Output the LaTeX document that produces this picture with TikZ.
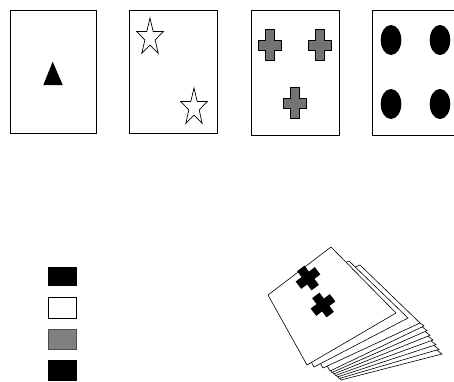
\documentclass[tikz,border=0pt]{standalone}
\usetikzlibrary{calc}
\begin{document}
\begin{tikzpicture}[x=1pt,y=-1pt,
  card/.style={draw=black,line width=0.8pt,fill=white},
  deckcard/.style={draw=black,line width=0.6pt,fill=white,line join=miter},
  greytex/.style={fill=black!55,draw=black,line width=1pt},
  crosspic/.pic={\path[pic actions] (-11.5,-5) -- (-4.5,-5) -- (-4.5,-15.5) -- (4.5,-15.5) -- (4.5,-5) -- (11.5,-5) -- (11.5,5) -- (4.5,5) -- (4.5,15.5) -- (-4.5,15.5) -- (-4.5,5) -- (-11.5,5) -- cycle;},
  deckcross/.pic={\path[pic actions] (-12,-4.6) -- (-4.6,-4.6) -- (-4.6,-12) -- (4.6,-12) -- (4.6,-4.6) -- (12,-4.6) -- (12,4.6) -- (4.6,4.6) -- (4.6,12) -- (-4.6,12) -- (-4.6,4.6) -- (-12,4.6) -- cycle;},
  starpath/.pic={\draw[line width=0.7pt,line join=miter] (90:14) \foreach \i in {1,...,9} {-- ({90+36*\i}:{mod(\i,2)==0 ? 14 : 5.4})} -- cycle;}
]
\useasboundingbox (0,0) rectangle (454,381);

% top row cards
\draw[card] (10,10) rectangle (96,133);
\draw[card] (129,10) rectangle (217,133);
\draw[card] (251,10) rectangle (339,135);
\draw[card] (372,10) rectangle (462,135);

% card 1: triangle
\fill (52.7,61.7) -- (43.3,85) -- (62.7,85) -- cycle;

% card 2: stars
\pic[yscale=-1.4] at (150,37.6) {starpath};
\pic[yscale=-1.4] at (194,107.6) {starpath};

% card 3: grey crosses
\pic[greytex] at (270,45) {crosspic};
\pic[greytex] at (320,45) {crosspic};
\pic[greytex] at (295,103) {crosspic};

% card 4: ellipses
\fill (391,40) ellipse [x radius=10.3, y radius=15];
\fill (440,40) ellipse [x radius=10.3, y radius=15];
\fill (391,104) ellipse [x radius=10.3, y radius=15];
\fill (440,104) ellipse [x radius=10.3, y radius=15];

% legend squares
\fill (48,266.5) rectangle (76.5,285.5);
\draw[line width=0.8pt] (48.5,297.5) rectangle (76,318);
\fill[black!50] (48,329) rectangle (76.5,349);
\draw[black!70,line width=0.6pt] (48,329) rectangle (76.5,349);
\fill (48,360) rectangle (76.5,381);

% deck: fanned cards at the bottom
\foreach \k in {0,...,6} {
  \pgfmathsetmacro{\bx}{341-1.83*\k}
  \pgfmathsetmacro{\by}{380-1.5*\k}
  \pgfmathsetmacro{\rx}{442-3*\k}
  \pgfmathsetmacro{\ry}{354-4.67*\k}
  \draw[deckcard] (\bx,\by) -- (\rx,\ry) -- ++(-80,-62) -- ($(\bx,\by)+(-45,-80)$) -- cycle;
}
% second and third card
\draw[deckcard] (360,265) -- (420,323) -- (323,368) -- (284,297) -- cycle;
\draw[deckcard] (349,261) -- (408,318) -- (314,367) -- (275,296) -- cycle;
% top card
\draw[deckcard] (331,247) -- (396,313) -- (307,365) -- (268,295) -- cycle;
\pic[fill=black,rotate=37] at (308,278) {deckcross};
\pic[fill=black,rotate=37] at (323,305) {deckcross};
\end{tikzpicture}
\end{document}
